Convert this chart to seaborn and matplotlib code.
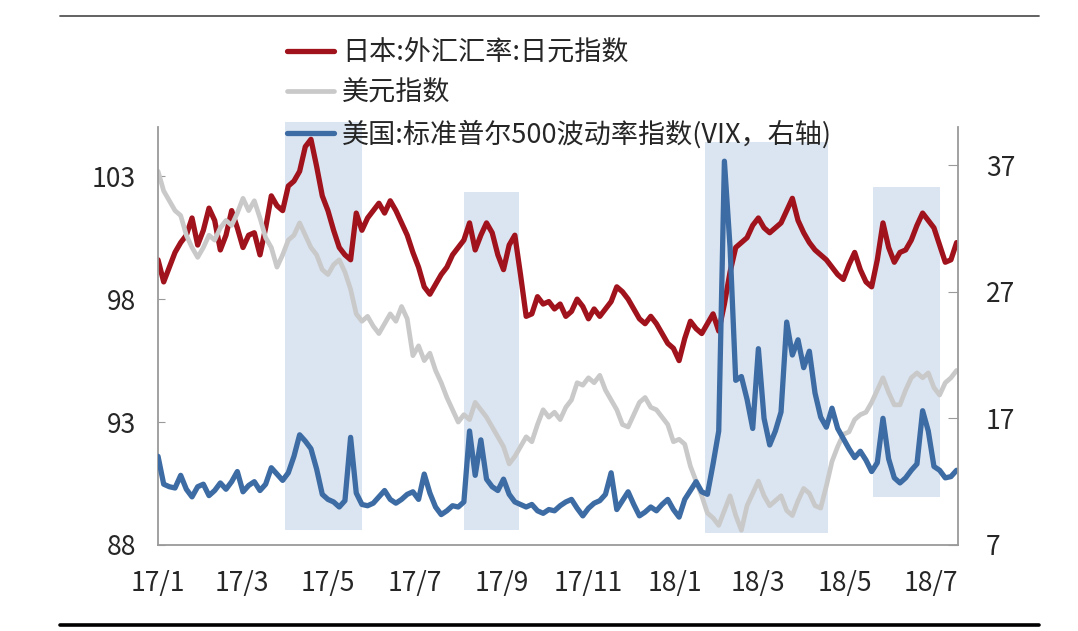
import matplotlib
matplotlib.use("Agg")
import matplotlib.pyplot as plt
import matplotlib.dates as mdates
import matplotlib.ticker as mticker
import pandas as pd
import seaborn as sns

# Data, one value every 4 days from 2017-01-01
start_date = "2017-01-01"
step = "4D"

# 日本:外汇汇率:日元指数 (left axis)
jpy_index = [
    99.6, 98.7, 99.3, 99.9, 100.3, 100.6, 101.3, 100.2, 100.8, 101.7,
    101.2, 100.0, 100.6, 101.6, 100.9, 100.1, 100.6, 100.7, 99.8, 100.9,
    102.2, 101.8, 101.6, 102.6, 102.8, 103.2, 104.2, 104.5, 103.4, 102.2,
    101.6, 100.8, 100.1, 99.8, 99.6, 101.5, 100.8, 101.3, 101.6, 101.9,
    101.5, 102.0, 101.6, 101.1, 100.6, 99.9, 99.3, 98.5, 98.2, 98.6,
    99.0, 99.3, 99.8, 100.1, 100.4, 101.1, 100.0, 100.6, 101.1, 100.7,
    99.8, 99.2, 100.2, 100.6, 99.0, 97.3, 97.4, 98.1, 97.8, 97.9,
    97.6, 97.8, 97.3, 97.5, 98.0, 97.7, 97.2, 97.6, 97.3, 97.6,
    97.9, 98.5, 98.3, 98.0, 97.6, 97.2, 97.0, 97.3, 97.0, 96.6,
    96.2, 96.0, 95.5, 96.4, 97.1, 96.8, 96.6, 97.0, 97.4, 96.7,
    97.8, 99.1, 100.1, 100.3, 100.5, 101.0, 101.3, 100.9, 100.7, 100.9,
    101.1, 101.6, 102.1, 101.2, 100.7, 100.3, 100.0, 99.8, 99.6, 99.3,
    99.0, 98.8, 99.4, 99.9, 99.2, 98.7, 98.5, 99.6, 101.1, 100.1,
    99.5, 99.9, 100.0, 100.4, 101.0, 101.5, 101.2, 100.9, 100.2, 99.5,
    99.6, 100.3,
]

# 美元指数 (left axis)
usd_index = [
    103.2, 102.4, 102.0, 101.6, 101.4, 100.6, 100.1, 99.7, 100.1, 100.6,
    100.4, 100.9, 101.2, 101.0, 101.5, 102.1, 101.6, 102.0, 101.3, 100.5,
    100.1, 99.3, 99.8, 100.4, 100.6, 101.1, 100.6, 100.1, 99.8, 99.2,
    99.0, 99.4, 99.6, 99.1, 98.4, 97.4, 97.1, 97.3, 96.9, 96.6,
    97.0, 97.4, 97.1, 97.7, 97.2, 95.7, 96.1, 95.5, 95.8, 95.1,
    94.6, 94.0, 93.5, 93.0, 93.3, 93.1, 93.8, 93.5, 93.2, 92.8,
    92.4, 92.0, 91.3, 91.6, 92.0, 92.4, 92.2, 92.9, 93.5, 93.2,
    93.4, 93.1, 93.6, 93.9, 94.6, 94.5, 94.8, 94.6, 94.9, 94.3,
    93.9, 93.5, 92.9, 92.8, 93.3, 93.8, 94.0, 93.6, 93.5, 93.2,
    92.9, 92.2, 92.3, 92.1, 91.2, 90.6, 90.0, 89.3, 89.1, 88.8,
    89.4, 90.0, 89.2, 88.6, 89.6, 90.1, 90.6, 90.0, 89.6, 89.8,
    90.0, 89.4, 89.2, 89.8, 90.3, 90.1, 89.6, 89.5, 90.4, 91.4,
    92.0, 92.5, 92.6, 93.1, 93.3, 93.4, 93.8, 94.3, 94.8, 94.2,
    93.7, 93.7, 94.3, 94.8, 95.0, 94.8, 95.0, 94.4, 94.1, 94.6,
    94.8, 95.1,
]

# 美国:标准普尔500波动率指数 VIX (right axis)
vix = [
    14.0, 11.8, 11.6, 11.5, 12.5, 11.4, 10.8, 11.6, 11.8, 10.9,
    11.3, 11.9, 11.4, 12.0, 12.8, 11.2, 11.7, 12.0, 11.3, 11.8,
    13.1, 12.6, 12.1, 12.7, 14.0, 15.7, 15.2, 14.6, 13.0, 11.0,
    10.6, 10.4, 10.0, 10.5, 15.5, 11.1, 10.2, 10.1, 10.3, 10.8,
    11.3, 10.6, 10.3, 10.6, 11.0, 11.2, 10.6, 12.6, 11.1, 10.0,
    9.4, 9.7, 10.1, 10.0, 10.4, 16.0, 12.5, 15.3, 12.2, 11.6,
    11.3, 12.2, 11.0, 10.4, 10.2, 10.0, 10.2, 9.7, 9.5, 9.8,
    9.7, 10.1, 10.4, 10.6, 9.9, 9.3, 9.9, 10.3, 10.5, 11.0,
    12.7, 9.8, 10.5, 11.2, 10.2, 9.3, 9.6, 10.0, 9.7, 10.2,
    10.6, 9.8, 9.2, 10.6, 11.3, 12.0, 11.2, 11.0, 13.4, 16.0,
    37.3, 30.5, 20.0, 20.3, 18.5, 16.2, 22.5, 17.0, 14.9, 16.0,
    17.5, 24.6, 22.0, 23.2, 21.0, 22.3, 19.0, 17.1, 16.3, 17.8,
    16.2, 15.4, 14.6, 13.9, 14.4, 13.7, 12.8, 13.5, 17.0, 13.8,
    12.3, 11.9, 12.3, 12.9, 13.4, 17.6, 16.0, 13.2, 12.9, 12.3,
    12.4, 12.9,
]

labels = ["日本:外汇汇率:日元指数", "美元指数", "美国:标准普尔500波动率指数(VIX，右轴)"]

# shaded periods
shade_periods = [
    ("2017-04-01", "2017-05-25"),
    ("2017-08-05", "2017-09-13"),
    ("2018-01-22", "2018-04-19"),
    ("2018-05-21", "2018-07-07"),
]
shade_extent = [(0.036, 1.012), (0.036, 0.845), (0.029, 0.964), (0.115, 0.856)]

dates = pd.date_range(start_date, periods=len(vix), freq=step)
df = pd.DataFrame({"date": dates, "jpy": jpy_index, "usd": usd_index, "vix": vix})

sns.set_style("white")
plt.rcParams["font.family"] = ["Noto Sans CJK SC", "DejaVu Sans"]

RED = "#a0121c"
GRAY = "#c9c9c9"
BLUE = "#3d6ba3"
SHADE = "#dbe5f1"
AXIS = "#9a9a9a"

fig = plt.figure(figsize=(10.78, 6.31), dpi=100)
ax = fig.add_axes([0.1466, 0.1363, 0.7421, 0.6624])
ax2 = ax.twinx()

for (s, e), (y0, y1) in zip(shade_periods, shade_extent):
    ax.axvspan(pd.Timestamp(s), pd.Timestamp(e), ymin=y0, ymax=y1,
               color=SHADE, lw=0, zorder=0, clip_on=False)

sns.lineplot(data=df, x="date", y="jpy", ax=ax, color=RED, lw=3.8, label=labels[0], legend=False)
sns.lineplot(data=df, x="date", y="usd", ax=ax, color=GRAY, lw=3.4, label=labels[1], legend=False)
sns.lineplot(data=df, x="date", y="vix", ax=ax2, color=BLUE, lw=3.8, label=labels[2], legend=False)

ax.set_xlim(pd.Timestamp("2017-01-01"), pd.Timestamp("2018-07-20"))
ax.set_ylim(88, 105)
ax2.set_ylim(7, 40)
ax.set_yticks([88, 93, 98, 103])
ax2.set_yticks([7, 17, 27, 37])
ax.xaxis.set_major_locator(mdates.MonthLocator(bymonth=[1, 3, 5, 7, 9, 11]))
ax.xaxis.set_major_formatter(mticker.FuncFormatter(
    lambda v, p: f"{mdates.num2date(v).year % 100}/{mdates.num2date(v).month}"))
ax.set_xlabel("")
ax.set_ylabel("")
ax2.set_ylabel("")

for a in (ax, ax2):
    a.set_facecolor("none")
    a.spines["top"].set_visible(False)
    for side in ("left", "right", "bottom"):
        a.spines[side].set_color(AXIS)
        a.spines[side].set_linewidth(1.3)
ax.spines["right"].set_visible(False)
ax2.spines["left"].set_visible(False)
ax2.spines["bottom"].set_visible(False)

ax.tick_params(axis="x", direction="in", length=7, color=AXIS, labelsize=19, pad=18)
ax.tick_params(axis="y", direction="in", length=5, color=AXIS, labelsize=19, pad=16)
ax2.tick_params(axis="y", direction="in", length=7, color=AXIS, labelsize=19, pad=20)

h1, l1 = ax.get_legend_handles_labels()
h2, l2 = ax2.get_legend_handles_labels()
fig.legend(h1 + h2, l1 + l2, loc="upper left", bbox_to_anchor=(0.266, 0.938),
           frameon=False, fontsize=19.5, handlelength=1.75, handletextpad=0.3,
           labelspacing=0.5, borderpad=0, borderaxespad=0)

fig.add_artist(plt.Line2D([0.056, 0.964], [0.975, 0.975], color="#555555", lw=1.3))
fig.add_artist(plt.Line2D([0.056, 0.964], [0.010, 0.010], color="black", lw=2.6))

fig.savefig("out.png", dpi=100, facecolor="white")
